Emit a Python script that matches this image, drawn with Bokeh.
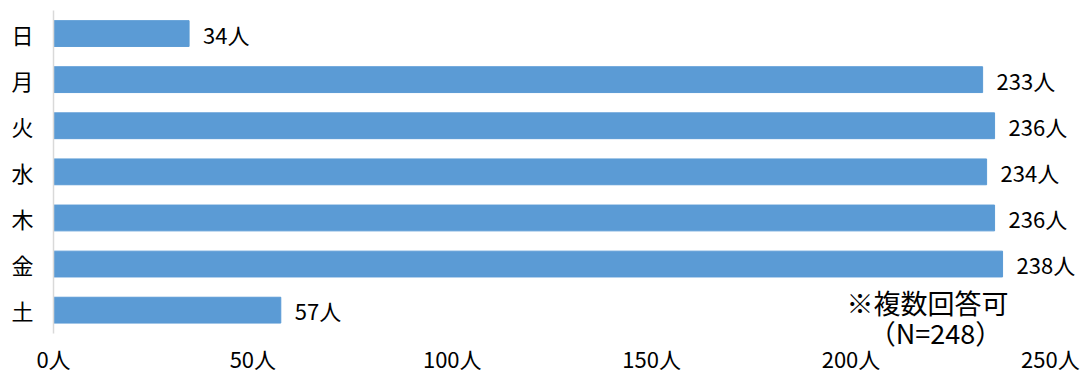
from bokeh.plotting import figure
from bokeh.models import Range1d, FixedTicker, PrintfTickFormatter, Label, ColumnDataSource
from bokeh.core.properties import value
from bokeh.embed import file_html
from bokeh.resources import INLINE

days = ["日", "月", "火", "水", "木", "金", "土"]
counts = [34, 233, 236, 234, 236, 238, 57]
x_ticks = [0, 50, 100, 150, 200, 250]
note_line1 = "※複数回答可"
note_line2 = "（N=248）"

FONT = "Noto Sans CJK JP"

n = len(days)
ypos = [n - 1 - i for i in range(n)]  # first day at top

src = ColumnDataSource(dict(y=ypos, count=counts, lab=[f"{c}人" for c in counts]))

p = figure(
    width=1083, height=376,
    y_range=Range1d(-0.81, n - 0.5),
    x_range=Range1d(0, 258.3),
    output_backend="svg", toolbar_location=None,
    min_border_left=53, min_border_right=0, min_border_top=10, min_border_bottom=20,
)
p.outline_line_color = None
p.xgrid.grid_line_color = None
p.ygrid.grid_line_color = None

p.hbar(y="y", right="count", left=0, height=0.56, source=src,
       fill_color="#5B9BD5", line_color="#5B9BD5")

p.text(x="count", y="y", text="lab", source=src, x_offset=14,
       text_font=value(FONT), text_font_size="22px", text_color="#000000",
       text_baseline="middle", text_align="left")

xa = p.xaxis[0]
xa.ticker = FixedTicker(ticks=x_ticks)
xa.formatter = PrintfTickFormatter(format="%d人")
xa.axis_line_color = None
xa.major_tick_line_color = None
xa.minor_tick_line_color = None
xa.major_tick_out = 0
xa.major_tick_in = 0
xa.major_label_standoff = -6
xa.major_label_text_font = FONT
xa.major_label_text_font_size = "22px"
xa.major_label_text_color = "#000000"

ya = p.yaxis[0]
ya.ticker = FixedTicker(ticks=ypos)
ya.major_label_overrides = {y: d for y, d in zip(ypos, days)}
ya.bounds = (-0.5, n - 0.5)
ya.axis_line_color = "#d9d9d9"
ya.axis_line_width = 1.5
ya.major_tick_line_color = None
ya.minor_tick_line_color = None
ya.major_tick_out = 0
ya.major_tick_in = 0
ya.major_label_standoff = 20
ya.major_label_text_font = FONT
ya.major_label_text_font_size = "22px"
ya.major_label_text_color = "#000000"

p.add_layout(Label(x=219.2, y=0.17, text=note_line1, text_font=FONT, text_font_size="27px",
                   text_color="#000000", text_align="center", text_baseline="middle",
                   level="overlay"))
p.add_layout(Label(x=221.2, y=-0.48, text=note_line2, text_font=FONT, text_font_size="27px",
                   text_color="#000000", text_align="center", text_baseline="middle",
                   level="overlay"))

open("out.html", "w").write(file_html(p, INLINE))
